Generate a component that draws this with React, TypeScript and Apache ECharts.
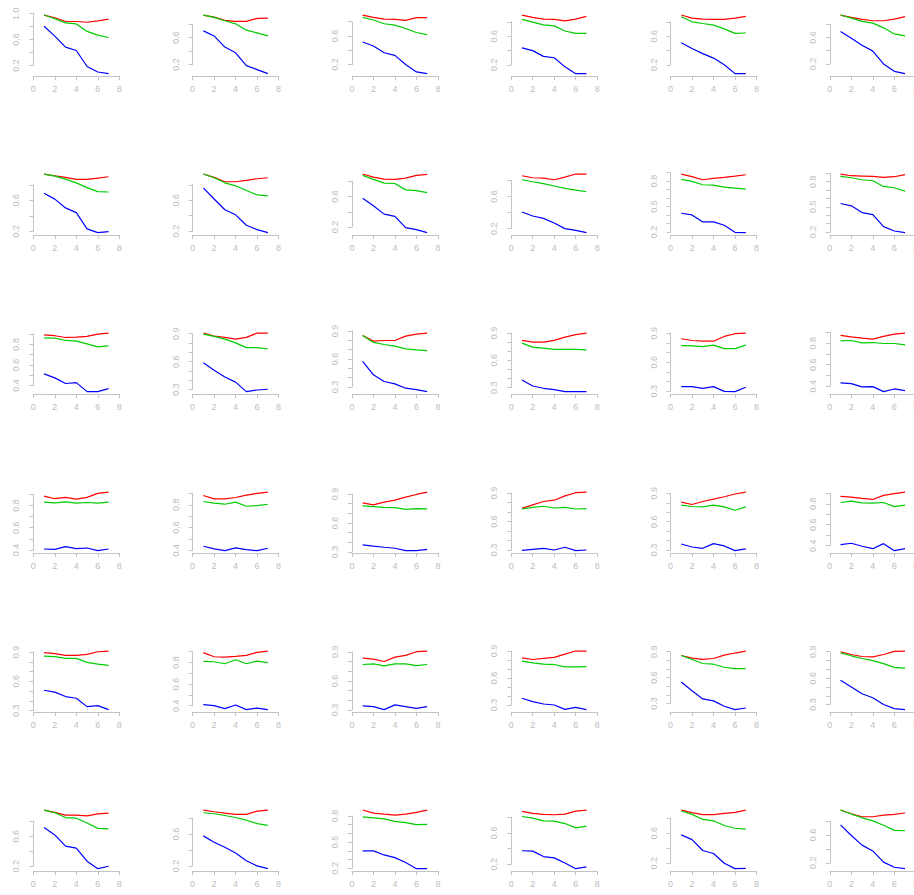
import React, { useEffect, useRef } from "react";
import * as echarts from "echarts";

const xValues = [1, 2, 3, 4, 5, 6, 7];
const xTicks = [0, 2, 4, 6, 8];

// 36 panels, row-major (6 x 6)
const redSeries: number[][] = [
  [0.979, 0.937, 0.879, 0.879, 0.868, 0.889, 0.916],
  [0.935, 0.905, 0.855, 0.84, 0.84, 0.885, 0.89],
  [0.894, 0.861, 0.838, 0.833, 0.819, 0.857, 0.857],
  [0.894, 0.861, 0.838, 0.833, 0.814, 0.838, 0.875],
  [0.894, 0.852, 0.838, 0.833, 0.833, 0.852, 0.875],
  [0.937, 0.902, 0.871, 0.851, 0.851, 0.876, 0.912],
  [0.94, 0.918, 0.896, 0.87, 0.87, 0.888, 0.905],
  [0.94, 0.896, 0.84, 0.84, 0.857, 0.879, 0.892],
  [0.898, 0.858, 0.831, 0.827, 0.844, 0.88, 0.893],
  [0.858, 0.833, 0.829, 0.808, 0.841, 0.879, 0.879],
  [0.881, 0.85, 0.814, 0.83, 0.842, 0.857, 0.873],
  [0.892, 0.872, 0.868, 0.864, 0.852, 0.86, 0.884],
  [0.893, 0.884, 0.867, 0.871, 0.877, 0.9, 0.91],
  [0.907, 0.875, 0.86, 0.842, 0.86, 0.907, 0.907],
  [0.852, 0.791, 0.798, 0.798, 0.845, 0.867, 0.878],
  [0.818, 0.8, 0.8, 0.818, 0.855, 0.881, 0.899],
  [0.842, 0.824, 0.817, 0.817, 0.866, 0.894, 0.901],
  [0.872, 0.859, 0.847, 0.838, 0.863, 0.884, 0.894],
  [0.885, 0.861, 0.873, 0.858, 0.873, 0.909, 0.921],
  [0.882, 0.852, 0.852, 0.864, 0.885, 0.9, 0.912],
  [0.809, 0.788, 0.816, 0.837, 0.868, 0.896, 0.921],
  [0.739, 0.775, 0.811, 0.825, 0.871, 0.904, 0.911],
  [0.807, 0.782, 0.814, 0.839, 0.864, 0.893, 0.914],
  [0.871, 0.865, 0.852, 0.842, 0.881, 0.897, 0.913],
  [0.893, 0.883, 0.866, 0.866, 0.876, 0.903, 0.91],
  [0.891, 0.853, 0.85, 0.857, 0.866, 0.894, 0.906],
  [0.835, 0.824, 0.8, 0.845, 0.863, 0.901, 0.908],
  [0.825, 0.806, 0.818, 0.829, 0.866, 0.9, 0.9],
  [0.856, 0.825, 0.81, 0.821, 0.86, 0.884, 0.907],
  [0.9, 0.869, 0.846, 0.842, 0.869, 0.904, 0.908],
  [0.95, 0.918, 0.882, 0.882, 0.873, 0.9, 0.909],
  [0.899, 0.878, 0.861, 0.844, 0.844, 0.886, 0.899],
  [0.867, 0.832, 0.82, 0.809, 0.82, 0.84, 0.867],
  [0.874, 0.848, 0.835, 0.831, 0.839, 0.878, 0.891],
  [0.908, 0.873, 0.846, 0.846, 0.864, 0.877, 0.908],
  [0.962, 0.909, 0.865, 0.865, 0.89, 0.9, 0.919],
];

const greenSeries: number[][] = [
  [0.979, 0.921, 0.858, 0.842, 0.726, 0.668, 0.632],
  [0.935, 0.9, 0.85, 0.805, 0.71, 0.67, 0.625],
  [0.861, 0.824, 0.772, 0.753, 0.705, 0.649, 0.62],
  [0.833, 0.795, 0.757, 0.743, 0.672, 0.639, 0.639],
  [0.871, 0.8, 0.776, 0.753, 0.701, 0.639, 0.644],
  [0.937, 0.891, 0.841, 0.815, 0.744, 0.652, 0.622],
  [0.94, 0.914, 0.875, 0.826, 0.765, 0.712, 0.708],
  [0.94, 0.892, 0.826, 0.787, 0.726, 0.669, 0.656],
  [0.88, 0.827, 0.778, 0.773, 0.689, 0.68, 0.653],
  [0.808, 0.783, 0.759, 0.73, 0.701, 0.68, 0.659],
  [0.818, 0.794, 0.755, 0.751, 0.728, 0.716, 0.704],
  [0.864, 0.848, 0.824, 0.812, 0.744, 0.728, 0.688],
  [0.864, 0.861, 0.838, 0.832, 0.805, 0.776, 0.786],
  [0.896, 0.871, 0.842, 0.802, 0.751, 0.751, 0.736],
  [0.852, 0.777, 0.755, 0.737, 0.708, 0.697, 0.69],
  [0.789, 0.745, 0.734, 0.719, 0.719, 0.719, 0.715],
  [0.772, 0.769, 0.762, 0.776, 0.741, 0.741, 0.776],
  [0.822, 0.825, 0.803, 0.806, 0.797, 0.797, 0.784],
  [0.83, 0.824, 0.833, 0.821, 0.827, 0.821, 0.83],
  [0.829, 0.814, 0.805, 0.823, 0.787, 0.793, 0.805],
  [0.777, 0.77, 0.763, 0.76, 0.742, 0.749, 0.746],
  [0.732, 0.75, 0.761, 0.743, 0.75, 0.732, 0.736],
  [0.775, 0.761, 0.757, 0.775, 0.757, 0.721, 0.757],
  [0.813, 0.826, 0.81, 0.806, 0.813, 0.774, 0.787],
  [0.859, 0.852, 0.835, 0.835, 0.794, 0.777, 0.763],
  [0.81, 0.807, 0.788, 0.825, 0.788, 0.813, 0.798],
  [0.769, 0.776, 0.755, 0.776, 0.776, 0.758, 0.769],
  [0.787, 0.769, 0.754, 0.75, 0.724, 0.724, 0.727],
  [0.856, 0.81, 0.763, 0.755, 0.72, 0.705, 0.705],
  [0.888, 0.854, 0.823, 0.8, 0.765, 0.723, 0.715],
  [0.95, 0.914, 0.85, 0.841, 0.777, 0.705, 0.7],
  [0.865, 0.853, 0.831, 0.806, 0.772, 0.73, 0.708],
  [0.789, 0.778, 0.766, 0.738, 0.723, 0.7, 0.704],
  [0.809, 0.788, 0.753, 0.749, 0.719, 0.664, 0.685],
  [0.895, 0.85, 0.783, 0.765, 0.702, 0.666, 0.653],
  [0.962, 0.904, 0.85, 0.806, 0.742, 0.668, 0.663],
];

const blueSeries: number[][] = [
  [0.805, 0.653, 0.484, 0.432, 0.184, 0.1, 0.074],
  [0.7, 0.625, 0.46, 0.375, 0.185, 0.125, 0.065],
  [0.516, 0.46, 0.365, 0.328, 0.2, 0.096, 0.072],
  [0.436, 0.398, 0.318, 0.299, 0.172, 0.077, 0.077],
  [0.507, 0.427, 0.356, 0.294, 0.2, 0.077, 0.077],
  [0.688, 0.586, 0.48, 0.393, 0.2, 0.088, 0.053],
  [0.691, 0.616, 0.502, 0.441, 0.231, 0.182, 0.196],
  [0.761, 0.616, 0.476, 0.41, 0.274, 0.218, 0.178],
  [0.578, 0.48, 0.369, 0.338, 0.191, 0.164, 0.124],
  [0.407, 0.357, 0.328, 0.27, 0.2, 0.179, 0.15],
  [0.42, 0.401, 0.318, 0.318, 0.279, 0.196, 0.192],
  [0.54, 0.512, 0.432, 0.408, 0.264, 0.212, 0.192],
  [0.514, 0.475, 0.42, 0.429, 0.341, 0.341, 0.371],
  [0.587, 0.507, 0.435, 0.38, 0.278, 0.296, 0.304],
  [0.574, 0.43, 0.358, 0.333, 0.286, 0.271, 0.249],
  [0.385, 0.318, 0.293, 0.278, 0.256, 0.256, 0.256],
  [0.349, 0.349, 0.331, 0.349, 0.3, 0.297, 0.342],
  [0.431, 0.425, 0.394, 0.397, 0.35, 0.375, 0.359],
  [0.409, 0.406, 0.43, 0.412, 0.418, 0.394, 0.409],
  [0.436, 0.412, 0.397, 0.421, 0.406, 0.397, 0.418],
  [0.374, 0.36, 0.349, 0.339, 0.314, 0.314, 0.328],
  [0.296, 0.307, 0.318, 0.3, 0.329, 0.293, 0.3],
  [0.364, 0.332, 0.318, 0.368, 0.343, 0.293, 0.311],
  [0.41, 0.423, 0.394, 0.371, 0.419, 0.352, 0.371],
  [0.509, 0.489, 0.444, 0.427, 0.341, 0.351, 0.31],
  [0.409, 0.4, 0.372, 0.406, 0.363, 0.378, 0.363],
  [0.342, 0.335, 0.303, 0.352, 0.335, 0.317, 0.335],
  [0.375, 0.338, 0.311, 0.3, 0.251, 0.274, 0.248],
  [0.549, 0.448, 0.354, 0.331, 0.269, 0.23, 0.249],
  [0.577, 0.5, 0.423, 0.377, 0.3, 0.254, 0.242],
  [0.718, 0.618, 0.468, 0.441, 0.268, 0.168, 0.2],
  [0.576, 0.497, 0.433, 0.361, 0.264, 0.2, 0.166],
  [0.4, 0.4, 0.353, 0.322, 0.266, 0.196, 0.196],
  [0.372, 0.367, 0.298, 0.281, 0.217, 0.144, 0.166],
  [0.577, 0.515, 0.37, 0.33, 0.2, 0.128, 0.133],
  [0.747, 0.594, 0.456, 0.372, 0.21, 0.136, 0.116],
];

const seriesColors = ["#ff0000", "#00cc00", "#0000ff"];

// layout (pixels)
const NCOL = 6;
const COL_STEP = 159.3;
const ROW_STEP = 159;
const X0 = 33.3; // pixel of x = 0 in first column
const PX_PER_X = 10.75;
const XPAD = 0.32; // 4% of the x range 0..8
const BOTTOM0 = 76; // bottom of first row plot region
const H = 63.3; // plot height
const AXIS_COLOR = "#c4c4c4";
const LABEL_COLOR = "#bdbdbd";
const FONT = "'Liberation Sans', Arial, Helvetica, sans-serif";
const FONT_SIZE = 9;
const LABEL_MIN_GAP = 20.1;

function prettyUnit(span: number, ndiv: number): number {
  const cell = span / ndiv;
  const U = Math.pow(10, Math.floor(Math.log10(cell)));
  const h = 0.8;
  const h5 = 1.7;
  let unit = U;
  if (2 * U - cell < h * (cell - unit)) {
    unit = 2 * U;
    if (5 * U - cell < h5 * (cell - unit)) {
      unit = 5 * U;
      if (10 * U - cell < h * (cell - unit)) unit = 10 * U;
    }
  }
  return unit;
}

function round10(v: number) {
  return Math.round(v * 1e10) / 1e10;
}

function buildOption() {
  const grids: any[] = [];
  const xAxes: any[] = [];
  const yAxes: any[] = [];
  const series: any[] = [];

  redSeries.forEach((_, p) => {
    const r = Math.floor(p / NCOL);
    const c = p % NCOL;
    const sets = [redSeries[p], greenSeries[p], blueSeries[p]];
    const all = sets.flat();
    const mn = Math.min(...all);
    const mx = Math.max(...all);
    const rng = mx - mn;
    const lo = mn - 0.04 * rng;
    const hi = mx + 0.04 * rng;
    const unit = prettyUnit(hi - lo, 5);
    const ticks: number[] = [];
    for (let k = Math.ceil(lo / unit - 1e-7); k * unit <= hi + 1e-9; k++) {
      ticks.push(round10(k * unit));
    }
    const ppu = H / (hi - lo);
    const labels: number[] = [];
    ticks.forEach((t) => {
      if (!labels.length || (t - labels[labels.length - 1]) * ppu >= LABEL_MIN_GAP) labels.push(t);
    });
    const tFirst = ticks[0];
    const tLast = ticks[ticks.length - 1];

    const bottom = BOTTOM0 + r * ROW_STEP;
    const top = bottom - H;
    const x0 = X0 + c * COL_STEP;
    const plotLeft = x0 - XPAD * PX_PER_X;

    // grid A: plot region (data)
    const gA = grids.length;
    grids.push({
      left: plotLeft,
      top,
      width: (8 + 2 * XPAD) * PX_PER_X,
      height: H,
      containLabel: false,
      outerBoundsMode: "none",
    });
    xAxes.push({ gridIndex: gA, type: "value", min: -XPAD, max: 8 + XPAD, show: false });
    yAxes.push({ gridIndex: gA, type: "value", min: lo, max: hi, show: false });
    const axA = xAxes.length - 1;

    // grid B: axes spanning the tick range only (R style)
    const gB = grids.length;
    grids.push({
      left: x0,
      top: bottom - (tLast - lo) * ppu,
      width: 8 * PX_PER_X,
      height: (tLast - tFirst) * ppu,
      containLabel: false,
      outerBoundsMode: "none",
    });
    xAxes.push({
      gridIndex: gB,
      type: "value",
      min: xTicks[0],
      max: xTicks[xTicks.length - 1],
      interval: xTicks[1] - xTicks[0],
      position: "bottom",
      offset: (tFirst - lo) * ppu,
      axisLine: { show: true, lineStyle: { color: AXIS_COLOR, width: 1 } },
      axisTick: { show: true, length: 4, lineStyle: { color: AXIS_COLOR, width: 1 } },
      axisLabel: {
        show: true,
        color: LABEL_COLOR,
        fontSize: FONT_SIZE,
        fontFamily: FONT,
        margin: 8,
        showMinLabel: true,
        showMaxLabel: true,
        formatter: (v: number) => String(v),
      },
      splitLine: { show: false },
    });
    yAxes.push({
      gridIndex: gB,
      type: "value",
      min: tFirst,
      max: tLast,
      position: "left",
      offset: XPAD * PX_PER_X,
      axisLine: { show: true, lineStyle: { color: AXIS_COLOR, width: 1 } },
      axisTick: { show: true, length: 4, customValues: ticks, lineStyle: { color: AXIS_COLOR, width: 1 } },
      axisLabel: {
        show: true,
        customValues: labels,
        rotate: 90,
        color: LABEL_COLOR,
        fontSize: FONT_SIZE,
        fontFamily: FONT,
        margin: 9,
        formatter: (v: number) => v.toFixed(1),
      },
      splitLine: { show: false },
    });

    sets.forEach((vals, si) => {
      series.push({
        type: "line",
        xAxisIndex: axA,
        yAxisIndex: axA,
        data: xValues.map((x, i) => [x, vals[i]]),
        showSymbol: false,
        symbol: "none",
        silent: true,
        lineStyle: { color: seriesColors[si], width: 1.2 },
        z: 3,
      });
    });
  });

  return {
    animation: false,
    backgroundColor: "#ffffff",
    grid: grids,
    xAxis: xAxes,
    yAxis: yAxes,
    series,
  };
}

export default function App() {
  const ref = useRef<HTMLDivElement>(null);
  useEffect(() => {
    if (!ref.current) return;
    const chart = echarts.init(ref.current, undefined, { renderer: "svg" });
    chart.setOption(buildOption() as any);
    return () => chart.dispose();
  }, []);
  return (
    <div
      ref={ref}
      style={{ position: "absolute", left: 0, top: 0, width: 914, height: 895, background: "#fff" }}
    />
  );
}
